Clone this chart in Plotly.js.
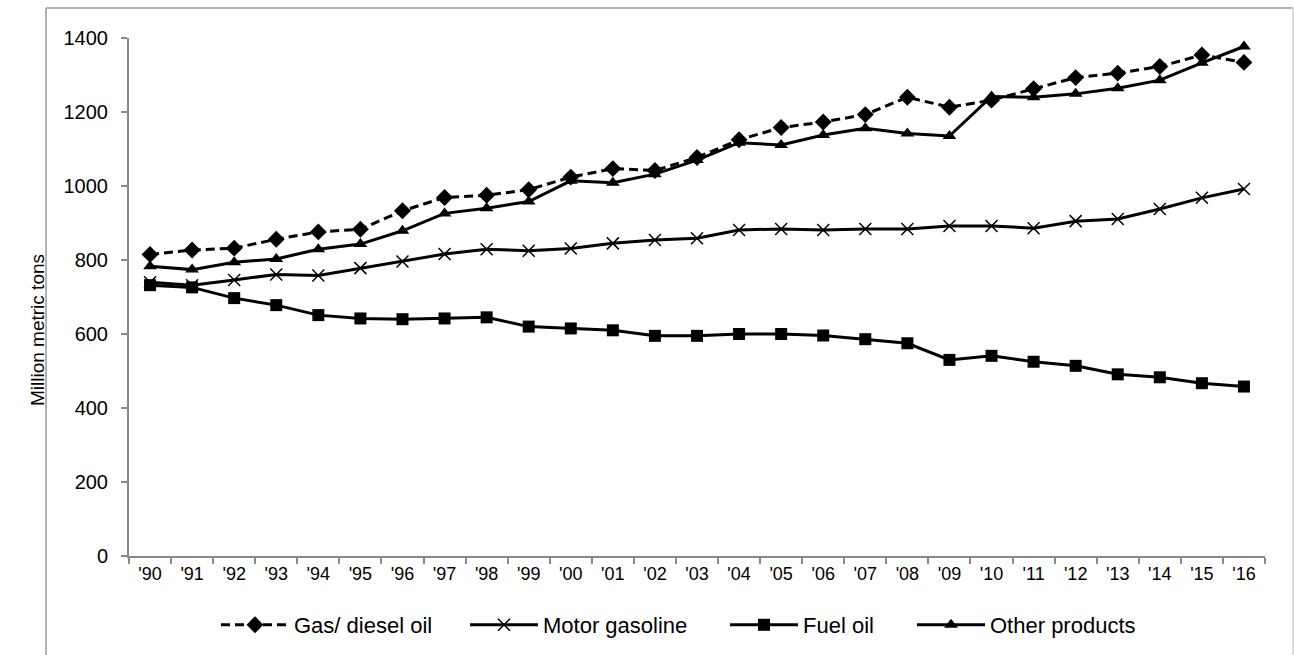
<!DOCTYPE html>
<html>
<head>
<meta charset="utf-8">
<script src="https://cdn.plot.ly/plotly-3.0.1.min.js"></script>
<style>html,body{margin:0;padding:0;background:#fff;} #chart{width:1294px;height:655px;}</style>
</head>
<body>
<div id="chart"></div>
<script>
const years = ["'90","'91","'92","'93","'94","'95","'96","'97","'98","'99","'00","'01","'02","'03","'04","'05","'06","'07","'08","'09","'10","'11","'12","'13","'14","'15","'16"];
const gasDiesel = [815,827,832,856,876,883,933,969,975,990,1024,1047,1042,1077,1125,1158,1173,1193,1240,1213,1232,1263,1293,1305,1323,1354,1334];
const motorGasoline = [740,732,746,761,758,778,796,816,829,825,831,845,854,859,881,884,881,884,884,892,892,886,905,911,938,968,992];
const fuelOil = [732,726,697,678,651,642,640,642,645,620,615,610,595,595,600,600,596,586,575,530,541,525,514,491,483,467,458];
const otherProducts = [783,774,794,803,829,843,879,926,940,958,1014,1009,1032,1070,1117,1111,1138,1156,1142,1135,1242,1240,1249,1264,1286,1333,1377];
const seriesNames = ['Gas/ diesel oil','Motor gasoline','Fuel oil','Other products'];

// plot area in px
const L = 129, R = 1265, T = 38, B = 556;
const px2x = p => (p - L) / (R - L);
const px2y = p => (B - p) / (B - T);

const traces = [
  {name:seriesNames[0], legend:'legend', x:years, y:gasDiesel, type:'scatter', mode:'lines+markers',
   line:{color:'#000', width:3, dash:'9px,5px'}, marker:{symbol:'diamond', size:13, color:'#000'}},
  {name:seriesNames[1], legend:'legend2', x:years, y:motorGasoline, type:'scatter', mode:'lines+markers',
   line:{color:'#000', width:3}, marker:{symbol:'x-thin', size:12, color:'#000', line:{color:'#000', width:1.5}}},
  {name:seriesNames[2], legend:'legend3', x:years, y:fuelOil, type:'scatter', mode:'lines+markers',
   line:{color:'#000', width:3}, marker:{symbol:'square', size:12, color:'#000'}},
  {name:seriesNames[3], legend:'legend4', x:years, y:otherProducts, type:'scatter', mode:'lines+markers',
   line:{color:'#000', width:3}, marker:{symbol:'triangle-up', size:12, color:'#000'}}
];

const legendY = px2y(625);
function leg(px){ return {orientation:'h', x:px2x(px), xanchor:'left', y:legendY, yanchor:'middle',
  font:{size:22}, itemwidth:68, bgcolor:'rgba(0,0,0,0)', borderwidth:0}; }

const layout = {
  width:1294, height:655,
  margin:{l:L, r:1294-R, t:T, b:655-B, autoexpand:false},
  paper_bgcolor:'#fff', plot_bgcolor:'#fff',
  font:{family:'Liberation Sans, Arial, sans-serif', size:18, color:'#000'},
  showlegend:true,
  legend:leg(216), legend2:leg(465), legend3:leg(725), legend4:leg(912),
  xaxis:{type:'category', range:[-0.5,26.5], showline:true, linecolor:'#898989', linewidth:2,
    ticks:'outside', tickson:'boundaries', ticklen:6, tickcolor:'#898989', tickwidth:2,
    showgrid:false, zeroline:false, tickfont:{size:18}, automargin:false},
  yaxis:{range:[0,1400], dtick:200, showline:true, linecolor:'#898989', linewidth:2,
    ticks:'outside', ticklen:6, tickcolor:'#898989', tickwidth:2, showgrid:false, zeroline:false,
    tickfont:{size:20}, ticklabelstandoff:9, automargin:false},
  annotations:[{text:'Million metric tons', xref:'paper', yref:'paper', x:px2x(37), y:px2y(330),
    xanchor:'center', yanchor:'middle', textangle:-90, showarrow:false, font:{size:19}}],
  shapes:[
    {type:'line', xref:'paper', yref:'paper', x0:px2x(46), x1:px2x(1293), y0:px2y(8), y1:px2y(8), line:{color:'#9a9a9a', width:1.5}},
    {type:'line', xref:'paper', yref:'paper', x0:px2x(46), x1:px2x(46), y0:px2y(8), y1:px2y(670), line:{color:'#9a9a9a', width:1.5}},
    {type:'line', xref:'paper', yref:'paper', x0:px2x(1293), x1:px2x(1293), y0:px2y(8), y1:px2y(670), line:{color:'#d0d0d0', width:1.5}}
  ]
};
Plotly.newPlot('chart', traces, layout, {displayModeBar:false, staticPlot:true});
</script>
</body>
</html>
